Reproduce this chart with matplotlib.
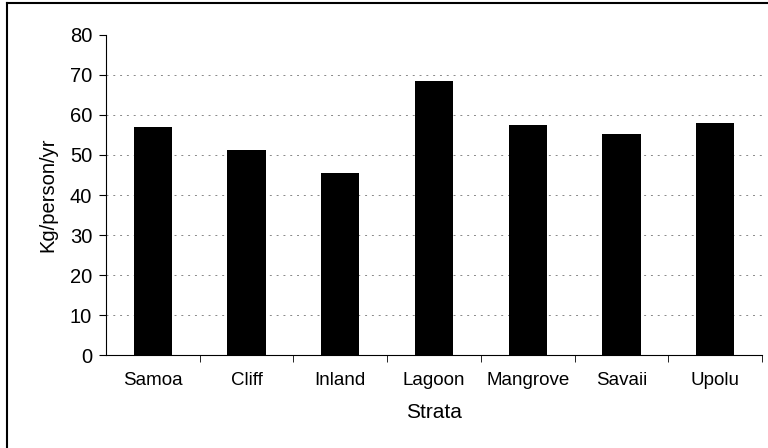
import matplotlib.pyplot as plt
from matplotlib.lines import Line2D

plt.rcParams['font.family'] = ['Liberation Sans', 'DejaVu Sans']

strata = ["Samoa", "Cliff", "Inland", "Lagoon", "Mangrove", "Savaii", "Upolu"]
kg_per_person = [57.0, 51.3, 45.5, 68.5, 57.5, 55.3, 58.0]
y_ticks = [0, 10, 20, 30, 40, 50, 60, 70, 80]

fig = plt.figure(figsize=(7.68, 4.48), dpi=100)
ax = fig.add_axes([106 / 768, 1 - 355 / 448, 656 / 768, 320 / 448])

x = range(len(strata))
ax.bar(x, kg_per_person, width=0.41, color="black", zorder=3)

# gridlines at each tick except 0 and the top
ax.hlines(y_ticks[1:-1], -0.5, len(strata) - 0.5, colors="#888888",
          linestyles=(0, (2, 5)), linewidth=0.7, zorder=1)

ax.set_xlim(-0.5, len(strata) - 0.5)
ax.set_ylim(0, 80)
ax.set_yticks(y_ticks)
ax.set_xticks(x)
ax.set_xticklabels(strata, fontsize=13.5)
ax.tick_params(axis="x", length=0, pad=12)
ax.tick_params(axis="y", labelsize=14.5, length=5, direction="out", pad=5)
# separators between categories on the x axis
ax.set_xticks([i + 0.5 for i in range(len(strata))], minor=True)
ax.tick_params(axis="x", which="minor", length=5, direction="out")

for side in ["top", "right"]:
    ax.spines[side].set_visible(False)
ax.spines["left"].set_linewidth(0.8)
ax.spines["bottom"].set_linewidth(0.8)

ax.set_ylabel("Kg/person/yr", fontsize=14.5, labelpad=9)
ax.set_xlabel("Strata", fontsize=15, labelpad=10)

# outer chart frame
fig.add_artist(Line2D([7 / 768, 7 / 768], [0, 1 - 3 / 448], color="black", lw=1.5))
fig.add_artist(Line2D([7 / 768, 1], [1 - 3 / 448, 1 - 3 / 448], color="black", lw=1.5))

fig.savefig("out.png", dpi=100)
